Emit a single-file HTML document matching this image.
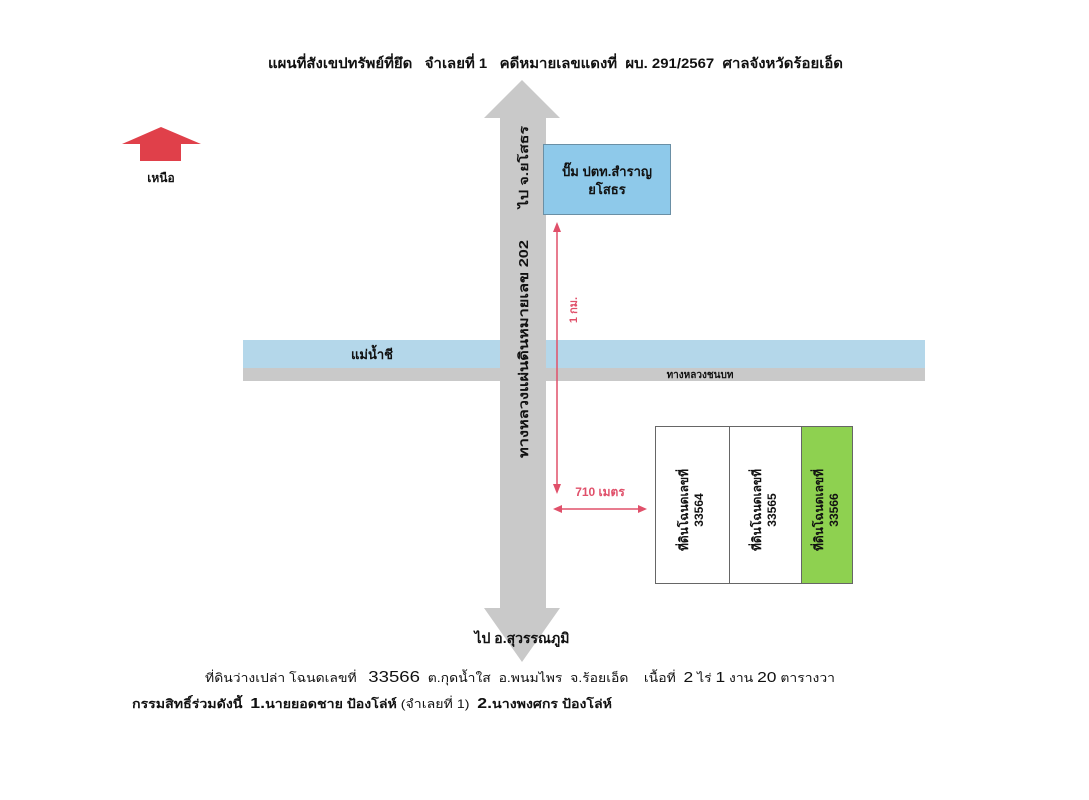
<!DOCTYPE html>
<html><head><meta charset="utf-8"><style>
html,body{margin:0;padding:0;background:#fff;}
svg{display:block;}
text{font-family:"Liberation Sans","DejaVu Sans",sans-serif;font-weight:bold;fill:#111;}
</style></head><body>
<svg width="1089" height="800" viewBox="0 0 1089 800" xmlns="http://www.w3.org/2000/svg">
<rect width="1089" height="800" fill="#fff"/>
<text x="268" y="68" font-size="14" textLength="575" lengthAdjust="spacingAndGlyphs">แผนที่สังเขปทรัพย์ที่ยึด &#160; จำเลยที่ 1 &#160; คดีหมายเลขแดงที่ &#160;ผบ. 291/2567 &#160;ศาลจังหวัดร้อยเอ็ด</text>

<!-- north arrow -->
<polygon points="161,127 201,144 181,144 181,161 140,161 140,144 122,144" fill="#e0404a"/>
<text x="161" y="182" font-size="12" text-anchor="middle">เหนือ</text>

<!-- river and road -->
<rect x="243" y="340" width="682" height="28" fill="#b4d7ea"/>
<rect x="243" y="368" width="682" height="13" fill="#c9c9c9"/>
<text x="372" y="359" font-size="13" text-anchor="middle">แม่น้ำชี</text>
<text x="700" y="378" font-size="10" text-anchor="middle">ทางหลวงชนบท</text>

<!-- vertical road -->
<polygon points="522,80 560,118 546,118 546,608 560,608 522,662 484,608 500,608 500,118 484,118" fill="#c9c9c9"/>
<text transform="translate(528,458) rotate(-90)" font-size="13" textLength="218" lengthAdjust="spacingAndGlyphs">ทางหลวงแผ่นดินหมายเลข 202</text>
<text transform="translate(528,208) rotate(-90)" font-size="12" textLength="82" lengthAdjust="spacingAndGlyphs">ไป จ.ยโสธร</text>
<text x="522" y="643" font-size="14" text-anchor="middle">ไป อ.สุวรรณภูมิ</text>

<!-- pump box -->
<rect x="543.5" y="144.5" width="127" height="70" fill="#8ec9ea" stroke="#6a8fa5"/>
<text x="607" y="176" font-size="13" text-anchor="middle">ปั๊ม ปตท.สำราญ</text>
<text x="607" y="194" font-size="13" text-anchor="middle">ยโสธร</text>

<!-- red dimension lines -->
<g stroke="#e0506a" stroke-width="1.5" fill="#e0506a">
<line x1="557" y1="230" x2="557" y2="488"/>
<line x1="561" y1="509" x2="640" y2="509"/>
</g>
<g fill="#e0506a">
<polygon points="557,222 553,232 561,232"/>
<polygon points="557,494 553,484 561,484"/>
<polygon points="553,509 562,505 562,513"/>
<polygon points="647,509 638,505 638,513"/>
</g>
<text transform="translate(577,310) rotate(-90)" font-size="11" text-anchor="middle" style="fill:#e0506a">1 กม.</text>
<text x="600" y="496" font-size="12" text-anchor="middle" style="fill:#e0506a">710 เมตร</text>

<!-- plots -->
<rect x="801" y="426" width="52" height="158" fill="#8ed150"/>
<rect x="655.5" y="426.5" width="197" height="157" fill="none" stroke="#666"/>
<line x1="729.5" y1="426" x2="729.5" y2="584" stroke="#666"/>
<line x1="801.5" y1="426" x2="801.5" y2="584" stroke="#666"/>
<g font-size="12" text-anchor="middle">
<text transform="translate(692,510) rotate(-90)"><tspan x="0" dy="-4">ที่ดินโฉนดเลขที่</tspan><tspan x="0" dy="15">33564</tspan></text>
<text transform="translate(765,510) rotate(-90)"><tspan x="0" dy="-4">ที่ดินโฉนดเลขที่</tspan><tspan x="0" dy="15">33565</tspan></text>
<text transform="translate(827,510) rotate(-90)"><tspan x="0" dy="-4">ที่ดินโฉนดเลขที่</tspan><tspan x="0" dy="15">33566</tspan></text>
</g>

<!-- bottom text -->
<text x="205" y="682" font-size="12" style="font-weight:normal" textLength="630" lengthAdjust="spacingAndGlyphs">ที่ดินว่างเปล่า โฉนดเลขที่ &#160;&#160;<tspan font-size="16">33566</tspan> &#160;ต.กุดน้ำใส &#160;อ.พนมไพร &#160;จ.ร้อยเอ็ด &#160;&#160; เนื้อที่ &#160;<tspan font-size="15">2</tspan> ไร่ <tspan font-size="15">1</tspan> งาน <tspan font-size="15">20</tspan> ตารางวา</text>
<text x="132" y="708" font-size="12" textLength="480" lengthAdjust="spacingAndGlyphs">กรรมสิทธิ์ร่วมดังนี้ &#160;<tspan font-size="15">1.</tspan>นายยอดชาย ป้องโล่ห์ <tspan style="font-weight:normal">(จำเลยที่ 1)</tspan> &#160;<tspan font-size="15">2.</tspan>นางพงศกร ป้องโล่ห์</text>
</svg>
</body></html>
